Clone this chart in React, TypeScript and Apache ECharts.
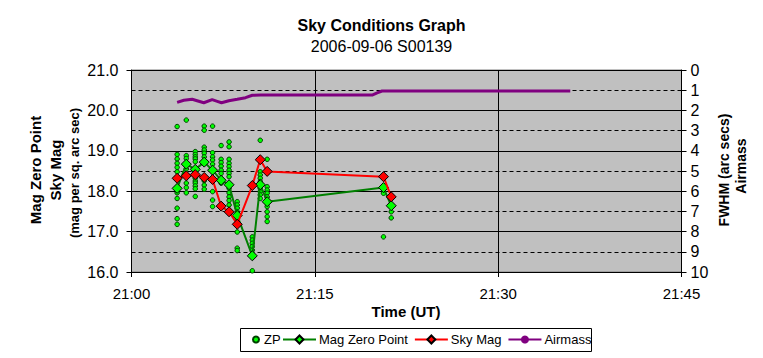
import React, { useEffect, useRef } from 'react';
import * as echarts from 'echarts';

// ---- data ----
const obsTimes = ['21:03:44', '21:04:29', '21:05:13', '21:05:57', '21:06:38', '21:07:20', '21:07:59', '21:08:39', '21:09:53', '21:10:32', '21:11:06', '21:20:37', '21:21:15'];
const magZeroPoint = [18.07, 18.67, 18.54, 18.72, 18.52, 18.27, 18.16, 17.40, 16.40, 18.16, 17.74, 18.09, 17.64];
const skyMag = [18.32, 18.38, 18.41, 18.34, 18.29, 17.63, 17.49, 17.18, 18.14, 18.78, 18.49, 18.36, 17.86];
const zpValues: number[][] = [
  [19.60, 18.91, 18.80, 18.69, 18.59, 18.48, 18.07, 17.96, 17.82, 17.58, 17.32, 17.18],
  [19.76, 18.88, 18.81, 18.67, 18.55, 18.38, 18.20, 18.09, 17.96],
  [18.98, 18.91, 18.85, 18.80, 18.73, 18.54, 18.32, 18.25, 18.20, 18.13, 18.06, 17.87],
  [19.61, 19.51, 19.09, 19.02, 18.94, 18.85, 18.72, 18.26, 18.15, 18.05],
  [19.61, 18.95, 18.85, 18.77, 18.67, 18.52, 17.99, 17.78, 17.62],
  [19.13, 18.79, 18.71, 18.62, 18.52, 18.44, 18.27, 18.20],
  [19.22, 19.10, 18.79, 18.69, 18.61, 18.52, 18.44, 18.36, 18.16, 18.07, 17.96, 17.86, 17.77, 17.66],
  [17.74, 17.66, 17.58, 17.49, 17.40, 17.30, 16.99, 16.59, 16.53],
  [16.87, 16.79, 16.71, 16.63, 16.54, 16.40, 16.03],
  [19.26, 18.48, 18.40, 18.32, 18.24, 18.16, 18.07, 17.99, 17.91, 17.82],
  [18.79, 18.11, 18.03, 17.95, 17.86, 17.74, 17.62, 17.49, 17.37, 17.25],
  [18.09, 17.95, 16.87],
  [17.64, 17.49, 17.34],
];
const airmassTimes = ['21:03:44', '21:04:17', '21:04:58', '21:05:22', '21:05:55', '21:06:36', '21:07:01', '21:07:22', '21:07:58', '21:08:39', '21:09:20', '21:09:53', '21:10:33', '21:19:41', '21:20:06', '21:20:30', '21:35:54'];
const airmassValues = [1.60, 1.50, 1.45, 1.52, 1.62, 1.47, 1.55, 1.62, 1.52, 1.45, 1.37, 1.25, 1.24, 1.24, 1.13, 1.04, 1.04];
const xTickLabels = ['21:00', '21:15', '21:30', '21:45'];

const FONT = 'Arial, "Liberation Sans", Helvetica, sans-serif';

function toMinutes(t: string): number {
  const [h, m, s] = t.split(':').map(Number);
  return (h - 21) * 60 + m + (s || 0) / 60;
}

export default function App() {
  const ref = useRef<HTMLDivElement>(null);

  useEffect(() => {
    if (!ref.current) return;
    const chart = echarts.init(ref.current, undefined, { renderer: 'svg' });

    const zpData: number[][] = [];
    zpValues.forEach((col, i) => col.forEach((v) => zpData.push([toMinutes(obsTimes[i]), v])));
    const mzpData = obsTimes.map((t, i) => [toMinutes(t), magZeroPoint[i]]);
    const skyData = obsTimes.map((t, i) => [toMinutes(t), skyMag[i]]);
    const airData = airmassTimes.map((t, i) => [toMinutes(t), airmassValues[i]]);

    const option: any = {
      animation: false,
      backgroundColor: '#ffffff',
      textStyle: { fontFamily: FONT, color: '#000' },
      title: {
        text: 'Sky Conditions Graph',
        subtext: '2006-09-06 S00139',
        left: 'center',
        top: 12,
        itemGap: 5,
        textStyle: { fontFamily: FONT, fontSize: 16, fontWeight: 'bold', color: '#000' },
        subtextStyle: { fontFamily: FONT, fontSize: 16, color: '#000' },
      },
      legend: [
        {
          data: ['ZP'],
          left: 252,
          top: 333,
          itemWidth: 6,
          itemHeight: 6,
          itemGap: 0,
          padding: 0,
          icon: 'circle',
          textStyle: { fontFamily: FONT, fontSize: 13, color: '#000' },
        },
        {
          data: ['Mag Zero Point', 'Sky Mag', 'Airmass'],
          left: 282,
          top: 333,
          itemWidth: 33,
          itemHeight: 10,
          itemGap: 6,
          padding: 0,
          textStyle: { fontFamily: FONT, fontSize: 13, color: '#000', padding: [0, 0, 0, -2] },
        },
      ],
      graphic: [
        { type: 'rect', shape: { x: 240.5, y: 328.5, width: 351, height: 23 }, style: { fill: 'none', stroke: '#000', lineWidth: 1 }, silent: true },
        { type: 'text', x: 35, y: 170, rotation: Math.PI / 2, style: { text: 'Mag Zero Point', font: `bold 15px ${FONT}`, fill: '#000', align: 'center', verticalAlign: 'middle' } },
        { type: 'text', x: 55, y: 170, rotation: Math.PI / 2, style: { text: 'Sky Mag', font: `bold 15px ${FONT}`, fill: '#000', align: 'center', verticalAlign: 'middle' } },
        { type: 'text', x: 74, y: 173, rotation: Math.PI / 2, style: { text: '(mag per sq. arc sec)', font: `bold 13px ${FONT}`, fill: '#000', align: 'center', verticalAlign: 'middle' } },
        { type: 'text', x: 724, y: 170, rotation: Math.PI / 2, style: { text: 'FWHM (arc secs)', font: `bold 14px ${FONT}`, fill: '#000', align: 'center', verticalAlign: 'middle' } },
        { type: 'text', x: 741, y: 166, rotation: Math.PI / 2, style: { text: 'Airmass', font: `bold 14px ${FONT}`, fill: '#000', align: 'center', verticalAlign: 'middle' } },
        { type: 'text', x: 406, y: 311, style: { text: 'Time (UT)', font: `bold 15px ${FONT}`, fill: '#000', align: 'center', verticalAlign: 'middle' } },
      ],
      grid: {
        left: 131.5,
        right: 81.5,
        top: 70,
        bottom: 86,
        show: true,
        backgroundColor: '#c0c0c0',
        borderColor: '#808080',
        borderWidth: 1,
      },
      xAxis: {
        type: 'value',
        min: 0,
        max: 45,
        interval: 15,
        axisLine: { show: true, onZero: false, lineStyle: { color: '#000', width: 1 } },
        axisTick: { show: true, length: 5, lineStyle: { color: '#000' } },
        axisLabel: {
          margin: 14,
          fontFamily: FONT,
          fontSize: 15,
          color: '#000',
          formatter: (v: number) => xTickLabels[Math.round(v / 15)] ?? '',
        },
        splitLine: { show: true, lineStyle: { color: '#000', width: 1 } },
      },
      yAxis: [
        {
          type: 'value',
          min: 16,
          max: 21,
          interval: 1,
          position: 'left',
          axisLine: { show: true, lineStyle: { color: '#000', width: 1 } },
          axisTick: { show: true, length: 5, lineStyle: { color: '#000' } },
          axisLabel: { margin: 13, fontFamily: FONT, fontSize: 16, color: '#000', formatter: (v: number) => v.toFixed(1) },
          splitLine: { show: true, lineStyle: { color: '#000', width: 1 } },
          minorTick: { show: false, splitNumber: 2 },
          minorSplitLine: { show: true, lineStyle: { color: '#000', width: 1, type: [4, 3] } },
        },
        {
          type: 'value',
          min: 0,
          max: 10,
          interval: 1,
          inverse: true,
          position: 'right',
          axisLine: { show: true, lineStyle: { color: '#000', width: 1 } },
          axisTick: { show: true, length: 5, lineStyle: { color: '#000' } },
          axisLabel: { margin: 9, fontFamily: FONT, fontSize: 16, color: '#000' },
          splitLine: { show: false },
        },
      ],
      series: [
        {
          name: 'ZP',
          type: 'scatter',
          data: zpData,
          symbol: 'circle',
          symbolSize: 4.5,
          itemStyle: { color: '#00ff00', borderColor: '#004000', borderWidth: 1, opacity: 1 },
          z: 2,
        },
        {
          name: 'Mag Zero Point',
          type: 'line',
          data: mzpData,
          symbol: 'diamond',
          symbolSize: 10,
          itemStyle: { color: '#00ff00', borderColor: '#000', borderWidth: 1 },
          lineStyle: { color: '#008000', width: 2 },
          z: 3,
        },
        {
          name: 'Sky Mag',
          type: 'line',
          data: skyData,
          symbol: 'diamond',
          symbolSize: 10,
          itemStyle: { color: '#ff0000', borderColor: '#000', borderWidth: 1 },
          lineStyle: { color: '#ff0000', width: 2 },
          z: 4,
        },
        {
          name: 'Airmass',
          type: 'line',
          yAxisIndex: 1,
          data: airData,
          symbol: 'none',
          itemStyle: { color: '#800080' },
          lineStyle: { color: '#800080', width: 3 },
          z: 5,
        },
      ],
    };

    chart.setOption(option);
    return () => chart.dispose();
  }, []);

  return <div ref={ref} style={{ width: 763, height: 358, position: 'absolute', left: 0, top: 0 }} />;
}
